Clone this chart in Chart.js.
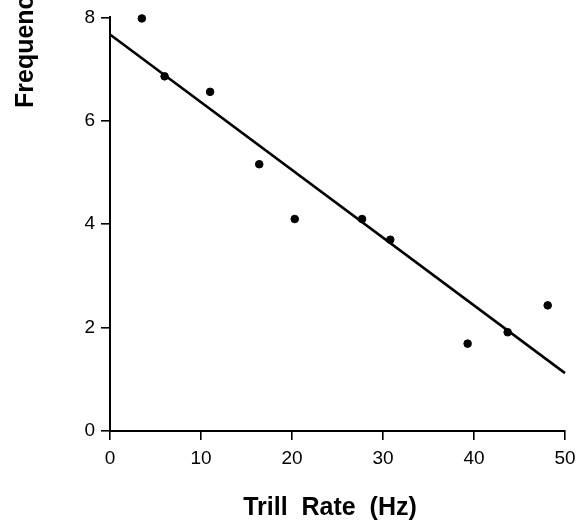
<!DOCTYPE html>
<html>
<head>
<meta charset="utf-8">
<script src="https://cdn.jsdelivr.net/npm/chart.js@4/dist/chart.umd.min.js"></script>
<style>
  html, body { margin: 0; padding: 0; background: #fff; }
  #wrap { width: 583px; height: 520px; position: relative; }
</style>
</head>
<body>
<div id="wrap"><canvas id="c" width="583" height="520"></canvas></div>
<script>
// Data
const trillRate = [3.5, 6.0, 11.0, 16.4, 20.3, 27.7, 30.8, 39.3, 43.7, 48.1];
const bandwidth = [7.98, 6.86, 6.56, 5.16, 4.10, 4.10, 3.70, 1.69, 1.91, 2.43];
// Regression line end points
const fitX = [0, 50];
const fitY = [7.67, 1.12];
// Axis ticks
const xTicks = [0, 10, 20, 30, 40, 50];
const yTicks = [0, 2, 4, 6, 8];
const xTitle = 'Trill  Rate  (Hz)';
const yTitle = 'Frequency Bandwidth (kHz)';

const FONT = '"Liberation Sans", Arial, Helvetica, sans-serif';

const axisTitles = {
  id: 'axisTitles',
  afterDraw(chart) {
    const ctx = chart.ctx;
    ctx.save();
    ctx.fillStyle = '#000';
    ctx.font = 'bold 25px ' + FONT;
    ctx.textBaseline = 'alphabetic';
    // x title
    ctx.textAlign = 'center';
    ctx.fillText(xTitle, 330, 515);
    // y title (rotated, partly outside the picture as in the reference)
    ctx.font = 'bold 25px ' + FONT;
    ctx.translate(33, 108);
    ctx.rotate(-Math.PI / 2);
    ctx.textAlign = 'left';
    ctx.fillText(yTitle, 0, 0);
    ctx.restore();
  }
};

new Chart(document.getElementById('c'), {
  type: 'scatter',
  data: {
    datasets: [
      {
        label: 'Observed',
        data: trillRate.map((x, i) => ({ x: x, y: bandwidth[i] })),
        backgroundColor: '#000',
        borderColor: '#000',
        pointRadius: 3.8,
        pointHoverRadius: 3.8,
        clip: false
      },
      {
        label: 'Fit',
        type: 'line',
        data: fitX.map((x, i) => ({ x: x, y: fitY[i] })),
        borderColor: '#000',
        borderWidth: 2.6,
        pointRadius: 0,
        fill: false,
        clip: false
      }
    ]
  },
  plugins: [axisTitles],
  options: {
    responsive: false,
    animation: false,
    devicePixelRatio: 1,
    layout: { padding: { top: 17, right: 18, left: 0, bottom: 0 } },
    plugins: { legend: { display: false }, tooltip: { enabled: false } },
    scales: {
      x: {
        type: 'linear',
        min: 0, max: 50,
        afterBuildTicks: (s) => { s.ticks = xTicks.map(v => ({ value: v })); },
        afterFit: (s) => { s.height = 89; },
        ticks: { color: '#000', font: { family: FONT, size: 19 }, padding: 7 },
        grid: { drawOnChartArea: false, drawTicks: true, tickLength: 9, color: '#000', lineWidth: 1.6 },
        border: { display: true, color: '#000', width: 2 },
        title: { display: false }
      },
      y: {
        type: 'linear',
        min: 0, max: 8,
        afterBuildTicks: (s) => { s.ticks = yTicks.map(v => ({ value: v })); },
        afterFit: (s) => { s.width = 110; },
        ticks: { color: '#000', font: { family: FONT, size: 19 }, padding: 6 },
        grid: { drawOnChartArea: false, drawTicks: true, tickLength: 9, color: '#000', lineWidth: 1.6 },
        border: { display: true, color: '#000', width: 2 },
        title: { display: false }
      }
    }
  }
});
</script>
</body>
</html>
